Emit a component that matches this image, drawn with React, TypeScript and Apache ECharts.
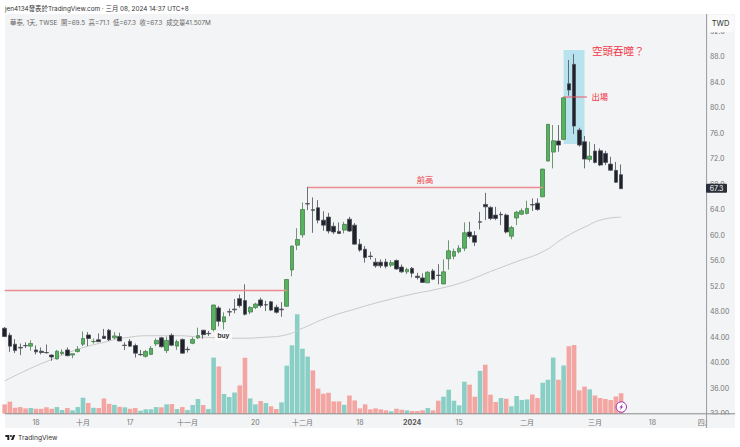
import React, { useEffect, useRef } from "react";
import * as echarts from "echarts";

echarts.graphic.registerShape(
    "tvLogo",
    echarts.graphic.extendPath("M14 6H2v6h6v9h6V6Zm12 15h-7l6-15h7l-6 15Zm-7-9a3 3 0 1 0 0-6 3 3 0 0 0 0 6Z", {})
);

const opens = [
    45.4, 44.3, 42.9, 42.4, 42.7, 42.6, 42.0, 41.8, 41.6, 41.2, 40.6, 41.45, 42.0, 41.2, 41.75, 42.9, 44.35, 43.3, 43.6, 44.15,
    45.1, 43.9, 44.1, 42.75, 43.35, 42.7, 41.3, 41.0, 41.3, 42.95, 43.9, 41.9, 44.3, 42.6, 43.65, 42.1, 43.05, 43.9, 45.1, 44.6,
    45.2, 48.6, 46.4, 48.0, 48.4, 50.05, 49.75, 47.95, 48.65, 49.85, 49.1, 49.55, 48.7, 48.4, 48.85, 54.55, 58.44, 60.06, 64.95, 64.0,
    64.3, 62.36, 62.84, 61.4, 60.6, 60.8, 62.52, 61.58, 58.6, 57.8, 56.72, 55.77, 55.77, 55.8, 55.3, 56.03, 55.0, 54.25, 54.8, 53.57,
    53.3, 52.53, 54.4, 53.73, 52.36, 56.3, 56.7, 57.4, 57.96, 60.5, 59.96, 62.1, 64.83, 64.36, 63.15, 63.27, 63.15, 59.85, 62.7, 63.3,
    63.42, 64.8, 65.03, 66.02, 71.63, 73.04, 74.77, 75.03, 83.76, 86.8, 76.49, 74.66, 71.89, 73.2, 73.24, 72.83, 71.15, 70.17, 69.5,
];
const closes = [
    44.1, 42.6, 41.9, 42.3, 42.65, 43.0, 41.7, 41.6, 41.55, 40.9, 41.8, 41.65, 41.1, 41.4, 42.1, 43.8, 43.8, 43.35, 43.3, 43.8,
    43.6, 44.2, 43.4, 42.7, 42.6, 41.5, 41.25, 41.75, 42.25, 43.5, 42.5, 43.5, 42.75, 43.3, 41.5, 42.05, 43.65, 44.25, 44.4, 44.55,
    49.05, 46.5, 47.2, 47.95, 48.3, 48.95, 47.6, 48.65, 49.2, 48.95, 49.05, 48.25, 47.9, 48.3, 53.05, 58.3, 59.33, 64.04, 64.9, 63.9,
    62.36, 61.58, 60.65, 60.5, 60.28, 61.7, 60.65, 58.6, 57.66, 56.5, 56.66, 55.2, 55.2, 55.13, 55.7, 54.7, 54.25, 54.63, 54.05, 53.37,
    52.6, 54.2, 53.1, 53.67, 54.25, 57.55, 57.45, 57.96, 60.37, 59.8, 58.9, 62.05, 64.45, 62.63, 62.63, 63.2, 60.5, 61.2, 63.6, 63.83,
    64.2, 64.75, 64.04, 70.37, 77.39, 74.81, 74.14, 81.56, 82.77, 77.12, 74.14, 71.94, 72.41, 71.42, 71.0, 71.42, 70.2, 68.3, 67.3,
];
const lows = [
    44.0, 41.7, 41.5, 41.2, 42.3, 41.9, 41.3, 41.3, 41.45, 40.3, 40.5, 41.2, 41.0, 40.7, 41.6, 42.6, 42.6, 43.0, 43.3, 43.8,
    43.4, 43.7, 43.4, 42.0, 42.5, 40.8, 41.1, 40.8, 41.2, 42.6, 42.4, 41.5, 42.6, 42.0, 41.4, 41.6, 42.9, 43.7, 43.75, 44.2,
    44.9, 45.7, 45.2, 47.3, 47.75, 48.65, 47.4, 47.6, 48.4, 48.65, 48.1, 48.1, 47.7, 47.2, 48.8, 53.55, 57.66, 59.6, 63.93, 60.37,
    61.85, 60.7, 60.27, 60.17, 60.17, 60.27, 60.5, 58.55, 57.4, 55.7, 56.2, 54.9, 54.85, 54.8, 55.0, 54.6, 54.1, 53.9, 53.37, 53.05,
    52.5, 52.5, 52.95, 52.3, 52.3, 54.6, 56.2, 57.15, 57.5, 59.5, 58.3, 60.9, 62.36, 62.36, 62.36, 61.58, 60.27, 59.37, 61.58, 63.15,
    63.26, 63.8, 63.83, 66.0, 71.55, 70.48, 73.09, 75.0, 81.88, 75.87, 73.87, 70.48, 71.52, 71.26, 70.84, 71.0, 70.1, 68.2, 67.3,
];
const highs = [
    45.6, 44.7, 43.7, 43.0, 43.2, 43.5, 42.7, 42.4, 42.85, 41.3, 42.0, 42.1, 42.4, 41.4, 42.6, 44.9, 44.8, 43.8, 44.6, 45.3,
    45.3, 44.8, 44.7, 43.2, 43.7, 43.0, 42.0, 42.0, 42.6, 43.8, 44.05, 44.1, 44.6, 43.6, 43.8, 42.5, 44.0, 45.5, 45.1, 45.0,
    49.1, 48.9, 47.9, 48.5, 50.0, 50.7, 52.3, 48.9, 49.4, 50.2, 49.7, 49.7, 49.1, 49.5, 53.1, 58.35, 61.1, 65.14, 67.6, 65.93,
    65.5, 63.77, 63.5, 62.0, 62.0, 62.1, 62.88, 61.9, 59.4, 58.3, 57.4, 56.4, 56.2, 56.3, 56.1, 56.2, 55.4, 54.9, 55.0, 54.1,
    54.0, 54.35, 54.7, 55.46, 56.2, 59.2, 57.9, 58.44, 62.0, 62.1, 60.64, 63.67, 66.65, 64.55, 64.45, 63.67, 63.4, 61.47, 63.83, 64.2,
    65.4, 65.77, 65.77, 70.4, 77.4, 77.28, 77.28, 81.6, 87.48, 88.42, 76.85, 75.55, 74.66, 74.3, 73.62, 73.24, 72.3, 71.5, 71.1,
];
// 成交量（百萬）
const volumes = [
    19, 24.4, 12, 13.5, 10.8, 11.5, 10, 10, 13, 10, 13.5, 7.4, 11.5, 6.8, 13.5, 32.5, 21.7, 12, 11.5, 31,
    20, 18, 14, 13, 10, 11.5, 6, 9, 9, 13.5, 13, 19, 19.6, 9.5, 13.5, 7.4, 17.6, 29.8, 17.6, 9.5,
    114, 96, 40, 34, 43, 57.5, 113.7, 31, 19, 25.7, 21.7, 15, 9.5, 23, 97.5, 139, 202, 132, 116, 88,
    51, 40.6, 42.6, 25, 25, 18, 37, 27, 10.8, 19, 8.8, 10.8, 8.8, 6.8, 4.7, 10, 8, 6.8, 5.4, 5.4,
    6.8, 11.5, 6.8, 26.4, 34.5, 48.7, 26.4, 17, 65, 59, 34.5, 87, 99.5, 38.6, 23.7, 31.8, 30.5, 15, 36, 27.8,
    29, 39, 31.8, 63, 69, 114, 69, 98, 137, 139.5, 47.4, 55, 49.4, 37, 31.8, 29.8, 27.8, 35, 41.507,
];
// 1 = 綠色量柱, 0 = 紅色量柱
const volumeUp = [
    0, 0, 0, 0, 0, 1, 0, 0, 0, 0, 1, 1, 0, 1, 1, 1, 0, 1, 0, 0,
    0, 1, 0, 1, 0, 0, 1, 1, 1, 1, 0, 1, 0, 1, 0, 1, 1, 1, 0, 1,
    1, 0, 1, 1, 1, 0, 0, 1, 1, 0, 1, 0, 0, 1, 1, 1, 1, 1, 1, 0,
    0, 0, 0, 0, 0, 1, 0, 0, 0, 0, 0, 0, 0, 0, 1, 0, 0, 1, 0, 0,
    0, 1, 0, 0, 1, 1, 1, 1, 1, 0, 0, 1, 0, 0, 0, 1, 0, 1, 1, 1,
    1, 0, 0, 1, 1, 1, 0, 1, 0, 0, 0, 0, 1, 0, 0, 0, 0, 0, 0,
];
const maIndex = [0, 5, 9, 14, 19, 23, 28, 33, 38, 45, 50, 54, 57, 62, 67, 72, 78, 83, 88, 93, 98, 103, 107, 111, 115, 118];
const maValues = [
    37.14, 39.13, 40.5, 42.1, 43.2, 43.9, 44.23, 44.23, 44.0, 43.84, 44.0, 44.4, 45.4, 47.14, 48.4, 49.57, 50.75, 51.58, 52.7, 54.3,
    55.85, 57.4, 59.54, 61.27, 62.57, 62.83,
];
const tickIndex = [6, 15, 24, 35, 48, 57, 68, 78, 87, 100, 113, 124, 134];
const tickText = ["18", "十月", "17", "十一月", "20", "十二月", "18", "2024", "15", "二月", "三月", "18", "四月"];
const categoryCount = 136;

const FONT = 'Inter, "Noto Sans CJK TC", sans-serif';
const RED = "#f23645";

const App = () => {
    const chartRef = useRef(null);

    useEffect(() => {
        const chart = echarts.init(chartRef.current, null, { renderer: "svg" });

        const categories = Array.from({ length: categoryCount }, (_, i) => {
            const at = tickIndex.indexOf(i);
            if (at < 0) return "";
            const text = tickText[at];
            return text === "2024" ? { value: text, textStyle: { fontWeight: "bold", color: "#555" } } : text;
        });

        const text = (x, y, value, size, fill, extra = {}) => ({
            type: "text",
            x,
            y,
            z: 100,
            silent: true,
            style: { text: value, fontSize: size, fontFamily: FONT, fill, textVerticalAlign: "middle", ...extra },
        });

        const option = {
            animation: false,
            backgroundColor: "#ffffff",
            grid: { left: 4.66, top: 31.2, width: 705.24, height: 382.5, containLabel: false },
            xAxis: {
                type: "category",
                boundaryGap: false,
                data: categories,
                axisLine: { show: false },
                axisTick: { show: false },
                splitLine: { show: false },
                axisLabel: { interval: 0, color: "#777", fontSize: 7, fontFamily: FONT, margin: 5, hideOverlap: false },
            },
            yAxis: [
                {
                    type: "value",
                    position: "right",
                    offset: -3.3,
                    min: 32,
                    max: 92,
                    interval: 4,
                    axisLine: { show: false },
                    axisTick: { show: false },
                    splitLine: { show: false },
                    axisLabel: {
                        color: "#777",
                        fontSize: 7,
                        fontFamily: FONT,
                        margin: 3.4,
                        formatter: (v) => (v < 50 ? v.toFixed(2) : v.toFixed(1)),
                    },
                },
                { type: "value", min: 0, max: 777, show: false },
            ],
            series: [
                {
                    type: "bar",
                    yAxisIndex: 1,
                    barWidth: 4.6,
                    z: 1,
                    data: volumes.map((v, i) => ({
                        value: v,
                        itemStyle: { color: volumeUp[i] ? "#8acfc5" : "#f3a5a1" },
                    })),
                },
                {
                    type: "line",
                    z: 2,
                    smooth: true,
                    symbol: "none",
                    lineStyle: { color: "#c8c8c8", width: 1 },
                    data: maIndex.map((x, i) => [x, maValues[i]]),
                    markArea: {
                        silent: true,
                        itemStyle: { color: "#b8e2ed" },
                        data: [[{ coord: [107, 89.05] }, { coord: [111, 74.3] }]],
                    },
                    markLine: {
                        silent: true,
                        symbol: "none",
                        label: { show: false },
                        lineStyle: { color: "#ea8c92", width: 1.3, type: "solid" },
                        data: [
                            [{ coord: [0, 51.37] }, { coord: [54, 51.37] }],
                            [{ coord: [58, 67.6] }, { coord: [103, 67.6] }],
                        ],
                    },
                },
                {
                    type: "candlestick",
                    z: 3,
                    barWidth: 4.2,
                    itemStyle: {
                        color: "#55b35d",
                        color0: "#1f222b",
                        borderColor: "#4a7f50",
                        borderColor0: "#4a4d55",
                        borderColorDoji: "#666666",
                        borderWidth: 0.8,
                    },
                    data: opens.map((o, i) => [o, closes[i], lows[i], highs[i]]),
                },
            ],
            graphic: [
                // 圖表底色
                { type: "rect", z: -10, silent: true, shape: { x: 5, y: 14, width: 730, height: 414 }, style: { fill: "#f3f4f5" } },
                // 座標軸線
                { type: "rect", z: 90, silent: true, shape: { x: 707, y: 414.6, width: 28, height: 13.4 }, style: { fill: "#f3f4f5" } },
                { type: "line", z: 91, silent: true, shape: { x1: 5, y1: 413.8, x2: 735, y2: 413.8 }, style: { stroke: "#8a8a8a", lineWidth: 1 } },
                { type: "line", z: 91, silent: true, shape: { x1: 706.6, y1: 14, x2: 706.6, y2: 428 }, style: { stroke: "#9a9a9a", lineWidth: 1 } },
                // 幣別
                { type: "rect", z: 95, silent: true, shape: { x: 708, y: 15, width: 26, height: 17, r: 2 }, style: { fill: "#fafafa" } },
                text(720.5, 23, "TWD", 7.5, "#333", { textAlign: "center" }),
                // 表頭
                text(5, 8.5, "jen4134發表於TradingView.com · 三月 08, 2024 14:37 UTC+8", 6.4, "#333"),
                text(10, 22.7, "華泰, 1天, TWSE  開=69.5  高=71.1  低=67.3  收=67.3  成交量41.507M", 6.4, "#666"),
                // 標註
                text(425, 180, "前高", 8.3, RED, { textAlign: "center" }),
                text(592, 51.7, "空頭吞噬？", 10.5, RED),
                text(591.5, 97.3, "出場", 8.3, RED),
                { type: "line", z: 50, silent: true, shape: { x1: 563, y1: 97, x2: 587, y2: 97 }, style: { stroke: "#ec5a66", lineWidth: 1 } },
                // buy
                { type: "rect", z: 50, silent: true, shape: { x: 215, y: 331.7, width: 17, height: 9, r: 2 }, style: { fill: "#fbfbfb" } },
                text(223.5, 336.3, "buy", 6.5, "#333", { textAlign: "center", fontWeight: "bold" }),
                // 現價
                { type: "rect", z: 95, silent: true, shape: { x: 706, y: 183.7, width: 21, height: 9, r: 1 }, style: { fill: "#2a2e39" } },
                text(716.5, 188.4, "67.3", 7, "#fff", { textAlign: "center" }),
                // 閃電
                { type: "circle", z: 60, silent: true, shape: { cx: 621.3, cy: 407, r: 5.2 }, style: { fill: "#ffffff", stroke: "#9c27b0", lineWidth: 1 } },
                {
                    type: "polygon",
                    z: 61,
                    silent: true,
                    shape: { points: [[622.8, 403.7], [619.4, 407.5], [621.1, 407.5], [619.9, 410.3], [623.2, 406.5], [621.4, 406.5]] },
                    style: { fill: "#9c27b0" },
                },
                // TradingView
                { type: "tvLogo", x: 4.7, y: 433, scaleX: 0.33, scaleY: 0.33, z: 100, silent: true, style: { fill: "#222" } },
                text(18, 437.7, "TradingView", 6.7, "#333"),
            ],
        };

        chart.setOption(option);

        return () => {
            chart.dispose();
        };
    }, []);

    return <div ref={chartRef} style={{ position: "absolute", left: 0, top: 0, width: 740, height: 447 }} />;
};

export default App;
